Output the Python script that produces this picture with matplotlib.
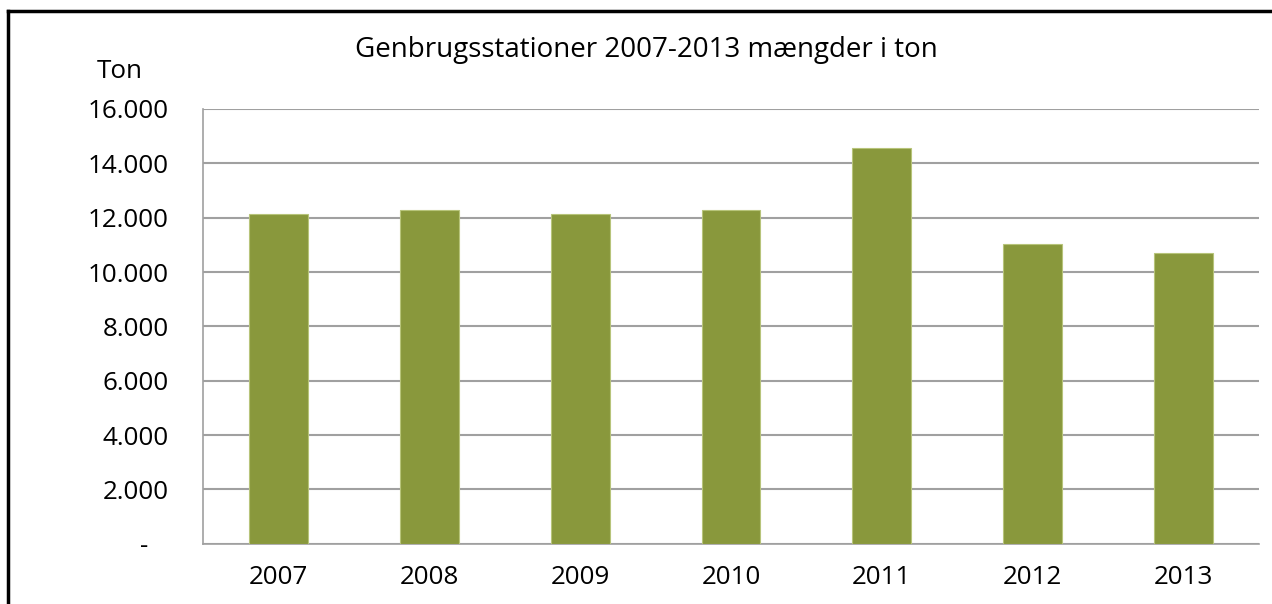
import matplotlib
matplotlib.use("Agg")
import matplotlib.pyplot as plt
from matplotlib.ticker import FixedLocator, FuncFormatter
from matplotlib.lines import Line2D

years = ["2007", "2008", "2009", "2010", "2011", "2012", "2013"]
tons = [12150, 12300, 12150, 12300, 14550, 11020, 10690]
yticks = [0, 2000, 4000, 6000, 8000, 10000, 12000, 14000, 16000]
title = "Genbrugsstationer 2007-2013 mængder i ton"
ylabel = "Ton"

plt.rcParams['font.family'] = ['Open Sans', 'DejaVu Sans']

fig = plt.figure(figsize=(12.72, 6.04), dpi=100)
ax = fig.add_axes([203/1272, 1-543.7/604, (1259-203)/1272, (543.7-109)/604])

x = list(range(len(years)))
ax.bar(x, tons, width=0.39, color="#89983C", edgecolor="#B7C47A", linewidth=0.8, zorder=3)
ax.set_xlim(-0.5, len(years)-0.5)
ax.set_ylim(0, 16000)
ax.yaxis.set_major_locator(FixedLocator(yticks))

def fmt(v, pos):
    if v == 0:
        return "-   "
    return f"{int(v):,}".replace(",", ".")
ax.yaxis.set_major_formatter(FuncFormatter(fmt))
ax.set_xticks(x)
ax.set_xticklabels(years)
ax.tick_params(axis='both', length=0, labelsize=18.7, colors="black")
ax.tick_params(axis='y', pad=24.5)
ax.tick_params(axis='x', pad=15)
ax.grid(axis='y', color="#A0A0A0", linewidth=1.5, zorder=0)
for s in ["top", "right"]:
    ax.spines[s].set_visible(False)
for s in ["left", "bottom"]:
    ax.spines[s].set_color("#A0A0A0")
    ax.spines[s].set_linewidth(1.2)

fig.text(646/1272, 1-50/604, title, ha="center", va="center", fontsize=20)
fig.text(120/1272, 1-72/604, ylabel, ha="center", va="center", fontsize=18.7)

# outer frame (left and top)
fig.add_artist(Line2D([8/1272, 8/1272], [0, 1-11/604], color="black", linewidth=2.5, transform=fig.transFigure))
fig.add_artist(Line2D([8/1272, 1], [1-11/604, 1-11/604], color="black", linewidth=2.5, transform=fig.transFigure))

fig.savefig("out.png", dpi=100)
